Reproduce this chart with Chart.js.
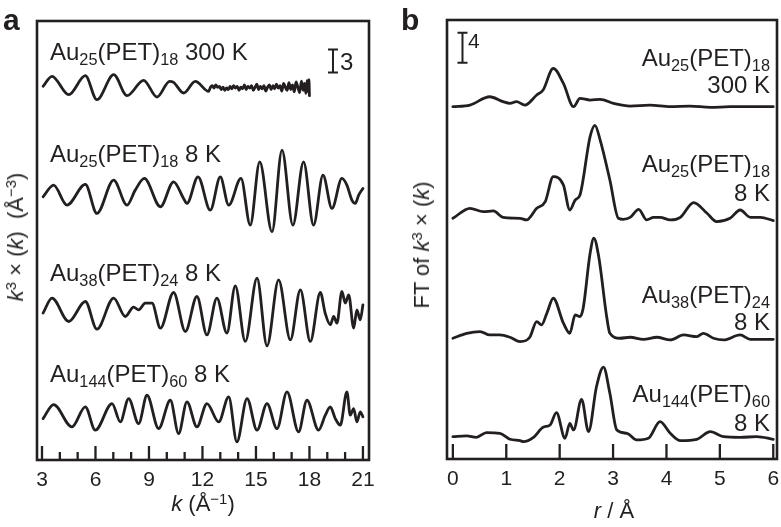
<!DOCTYPE html>
<html><head><meta charset="utf-8">
<script src="https://cdn.jsdelivr.net/npm/chart.js@4.4.0/dist/chart.umd.min.js"></script>
<style>
html,body{margin:0;padding:0;background:#fff;}
#wrap{position:relative;width:781px;height:527px;overflow:hidden;font-family:"Liberation Sans",Arial,Helvetica,sans-serif;color:#231f20;}
canvas{position:absolute;top:0;}
.t{position:absolute;white-space:nowrap;}
.t sub{font-size:0.68em;vertical-align:-0.3em;line-height:0;}
.t sup{font-size:0.68em;vertical-align:0.45em;line-height:0;}
.rot{transform:translate(-50%,-50%) rotate(-90deg);transform-origin:center center;}
</style>
</head><body>
<div id="wrap">
  <canvas id="ca" width="390" height="527" style="left:0"></canvas>
  <canvas id="cb" width="391" height="527" style="left:390px"></canvas>
</div>
<script>
// ---------------- DATA ----------------
// Panel a: k^3 chi(k) spectra (k in 1/Å, chi in Å^-3), stacked with vertical offsets
const kTicksA = [3, 6, 9, 12, 15, 18, 21];
const aOffsets = [48.3, 35.3, 19.5, 5.6];

const kA1 = [3.06,3.56,4.50,5.43,6.08,7.02,7.77,8.70,9.45,10.16,10.38,10.94,11.60,12.35,
  12.45,12.55,12.65,12.75,12.85,12.95,13.05,13.15,13.25,13.35,13.45,13.55,13.65,13.75,13.85,13.95,
  14.05,14.15,14.25,14.35,14.45,14.55,14.65,14.75,14.85,14.95,15.05,15.15,15.25,15.35,15.45,15.55,
  15.65,15.75,15.85,15.95,16.05,16.15,16.25,16.35,16.45,16.55,16.65,16.75,16.85,16.95,17.05,17.15,
  17.25,17.35,17.45,17.55,17.65,17.72,17.80,17.87,17.93,17.97,18.00];
const chiA1 = [0.22,1.52,-0.87,1.60,-1.52,1.73,-1.00,1.00,-1.17,0.87,0.74,-0.65,0.87,-0.43,
  0.1,0.3,0.0,0.4,0.1,0.2,-0.2,0.1,-0.3,0.0,-0.2,0.2,-0.1,0.3,0.0,0.2,
  -0.3,0.1,-0.1,0.4,-0.2,0.2,0.0,0.3,-0.3,0.1,0.5,-0.2,0.2,-0.1,0.3,-0.4,
  0.1,0.4,-0.2,0.3,-0.1,0.5,0.0,0.3,-0.4,0.6,0.1,-0.3,0.7,-0.2,0.4,-0.5,
  0.8,0.1,-0.6,0.9,-0.3,0.6,-0.7,1.0,-0.5,1.1,-1.0];

const kA2 = [3.06,3.65,4.40,5.43,6.08,7.02,7.77,8.23,8.74,9.64,10.38,10.94,11.13,11.75,12.44,13.00,
  13.47,14.16,14.68,15.21,15.90,16.46,17.07,17.67,18.23,18.76,19.26,19.82,20.10,20.38,20.57,20.76,21.00];
const chiA2 = [-1.13,0.39,-2.21,0.48,-3.29,1.04,-2.21,-0.26,1.26,-2.42,0.82,-1.34,-1.99,1.47,-2.86,1.47,
  -2.21,1.26,-4.81,3.42,-5.67,4.94,-4.81,3.42,-4.81,1.69,-2.64,1.26,0.39,-1.56,-1.99,-0.91,-0.04];

const kA3 = [3.06,3.56,4.50,5.43,6.08,7.02,7.67,8.14,8.42,8.79,9.17,9.64,10.38,11.04,11.69,12.25,12.81,
  13.37,13.84,14.40,15.06,15.62,16.27,16.93,17.49,18.05,18.61,18.89,19.17,19.36,19.54,19.82,20.01,
  20.20,20.48,20.66,20.85,21.00];
const chiA3 = [-0.43,1.52,-1.52,1.08,-2.51,1.52,-0.87,0.35,0.00,0.87,0.87,-2.38,2.25,-2.81,1.73,-3.25,1.52,
  -3.03,3.12,-4.11,4.11,-4.68,3.90,-3.90,2.60,-4.11,2.25,-0.50,-1.95,-0.87,-1.73,2.38,0.87,
  1.95,-2.38,0.00,-1.30,0.65];

const kA4 = [3.06,3.65,4.68,5.43,5.99,6.93,7.39,7.86,8.42,8.89,9.54,10.20,10.66,11.13,11.69,12.25,12.91,
  13.47,13.93,14.50,15.06,15.62,16.18,16.74,17.39,17.86,18.51,18.89,19.17,19.45,19.73,20.10,20.29,
  20.48,20.66,20.85,21.00];
const chiA4 = [-0.22,1.60,-1.30,1.30,-1.73,1.73,-0.65,2.38,-0.87,2.81,-1.52,2.16,-2.16,1.95,-1.30,1.73,-0.65,
  2.60,-3.25,2.38,-1.73,1.73,-1.52,3.25,-1.95,2.16,-1.73,0.22,1.30,-0.22,-1.08,3.25,0.22,
  1.08,-0.65,0.65,0.00];

// Panel b: Fourier transforms (r in Å), stacked with vertical offsets
const rTicksB = [0, 1, 2, 3, 4, 5, 6];
const bOffsets = [46.97, 32.09, 16.23, 2.76];

const rB1 = [0,0.32,0.69,0.94,1.07,1.19,1.35,1.57,1.69,1.88,2.07,2.26,2.38,2.57,2.76,3.01,3.32,3.69,4.07,4.44,4.82,5.19,5.57,6.0];
const ftB1 = [0,0.22,1.33,0.67,0.44,0.67,0.22,1.56,2.22,5.11,3.11,0,1.11,0.89,0.98,0.44,0.09,0.22,0,0.09,-0.09,0,0,0];

const rB2 = [0,0.32,0.57,0.76,0.94,1.26,1.38,1.57,1.73,1.88,2.07,2.19,2.29,2.38,2.57,2.66,2.76,2.94,3.10,3.19,3.32,3.48,
  3.63,3.76,3.88,4.07,4.26,4.51,4.76,4.94,5.19,5.38,5.57,5.76,6.0];
const ftB2 = [0,1.33,0.89,0.98,0.13,0,-0.22,1.33,2.22,5.56,4.44,1.11,2.44,3.11,10.9,12.4,10.4,5.11,0,-0.13,0.13,1.2,
  -0.22,0.13,0.13,-0.22,0.13,2.09,0.67,-0.44,0,1.11,0.13,0.13,-0.31];

const rB3 = [0,0.26,0.51,0.69,0.88,1.07,1.26,1.44,1.57,1.66,1.76,1.88,2.07,2.19,2.29,2.38,2.44,2.57,2.64,2.73,2.88,2.94,
  3.13,3.32,3.57,3.82,4.07,4.32,4.57,4.69,4.88,5.07,5.38,5.57,6.0];
const ftB3 = [-0.13,0.53,0.76,0.31,0.31,0,-0.58,0,2.09,1.64,3.2,5.2,1.87,0.53,2.98,2.76,3.87,11.2,13.2,10.8,2.76,0.53,
  -0.13,0,-0.27,0,-0.36,0.31,0.09,0.53,-0.13,-0.36,0.31,-0.27,-0.27];

const rB4 = [0,0.26,0.44,0.63,0.88,1.07,1.26,1.32,1.51,1.69,1.82,1.94,2.10,2.19,2.26,2.41,2.54,2.69,2.82,2.94,3.07,3.26,
  3.44,3.66,3.88,4.07,4.26,4.57,4.82,5.07,5.38,5.69,6.0];
const ftB4 = [0.22,0.31,0.13,0.76,0.67,-0.13,-0.31,-0.44,0.13,1.47,1.78,3.42,0,2.0,1.11,5.2,0.89,6.9,9.5,6.0,1.11,0.67,
  -0.22,0,2.22,0.67,-0.31,-0.13,0.89,0.22,0.13,0.22,-0.13];

// Scale bars (data units)
const barA = {x: 19.32, y0: 50.3, y1: 53.3};   // "3"
const barB = {x: 0.18, y0: 52.84, y1: 56.84};  // "4"

// ---------------- RENDER ----------------
const INK = '#231f20';
const FONT = '"Liberation Sans", Arial, Helvetica, sans-serif';

function series(xs, ys, off) {
  return xs.map((x, i) => ({x: x, y: ys[i] + off}));
}
function ds(data) {
  return {data, borderColor: INK, borderWidth: 2.8, pointRadius: 0, fill: false,
    cubicInterpolationMode: 'monotone', borderJoinStyle: 'round', borderCapStyle: 'round'};
}

const framePlugin = {
  id: 'frame',
  afterDatasetsDraw(chart, args, o) {
    const {ctx, chartArea: a, scales: {x, y}} = chart;
    ctx.save();
    ctx.strokeStyle = INK;
    ctx.lineCap = 'butt';
    ctx.lineWidth = 2.6;
    ctx.strokeRect(a.left, a.top, a.right - a.left, a.bottom - a.top);
    ctx.lineWidth = 2.3;
    x.ticks.forEach(t => {
      const px = x.getPixelForValue(t.value);
      const major = Math.abs(t.value % o.major) < 1e-6;
      const len = major ? o.majorLen : o.minorLen;
      ctx.beginPath(); ctx.moveTo(px, a.bottom); ctx.lineTo(px, a.bottom - len); ctx.stroke();
    });
    const bx = x.getPixelForValue(o.bar.x);
    const y0 = y.getPixelForValue(o.bar.y0), y1 = y.getPixelForValue(o.bar.y1);
    ctx.lineWidth = 2;
    ctx.beginPath();
    ctx.moveTo(bx, y0); ctx.lineTo(bx, y1);
    ctx.moveTo(bx - 5, y0); ctx.lineTo(bx + 5, y0);
    ctx.moveTo(bx - 5, y1); ctx.lineTo(bx + 5, y1);
    ctx.stroke();
    ctx.restore();
  }
};

function makeChart(id, datasets, xmin, xmax, ymax, pad, xh, tickShow, frameOpts, tickPad) {
  return new Chart(document.getElementById(id), {
    type: 'line',
    data: {datasets},
    plugins: [framePlugin],
    options: {
      responsive: false, animation: false, devicePixelRatio: 1,
      layout: {padding: pad},
      plugins: {legend: {display: false}, tooltip: {enabled: false}, frame: frameOpts},
      scales: {
        x: {type: 'linear', min: xmin, max: xmax,
          grid: {display: false}, border: {display: false},
          afterFit: s => { s.height = xh; },
          ticks: {stepSize: 1, includeBounds: false, autoSkip: false, maxRotation: 0, padding: tickPad,
            color: INK, font: {family: FONT, size: 21},
            callback: v => tickShow.includes(v) ? String(v) : ''}},
        y: {type: 'linear', min: 0, max: ymax, display: false}
      }
    }
  });
}

makeChart('ca', [
    ds(series(kA1, chiA1, aOffsets[0])), ds(series(kA2, chiA2, aOffsets[1])),
    ds(series(kA3, chiA3, aOffsets[2])), ds(series(kA4, chiA4, aOffsets[3]))
  ], 2.72, 21.34, 57.0, {left: 37, right: 21, top: 21, bottom: 0}, 67, kTicksA,
  {major: 3, majorLen: 14, minorLen: 8, bar: barA}, 0);

makeChart('cb', [
    ds(series(rB1, ftB1, bOffsets[0])), ds(series(rB2, ftB2, bOffsets[1])),
    ds(series(rB3, ftB3, bOffsets[2])), ds(series(rB4, ftB4, bOffsets[3]))
  ], -0.11, 6.07, 58.53, {left: 57, right: 4, top: 20, bottom: 0}, 68, rTicksB,
  {major: 1, majorLen: 15, minorLen: 15, bar: barB}, 0);

// ---------------- TEXT ----------------
const wrap = document.getElementById('wrap');
function txt(html, x, baseline, size, opts) {
  opts = opts || {};
  const d = document.createElement('div');
  d.className = 't';
  d.innerHTML = html;
  d.style.fontSize = size + 'px';
  d.style.lineHeight = size + 'px';
  if (opts.bold) d.style.fontWeight = 'bold';
  const top = baseline - size * 0.845;
  d.style.top = top + 'px';
  if (opts.right) d.style.right = (781 - x) + 'px'; else d.style.left = x + 'px';
  wrap.appendChild(d);
  return d;
}
function rtxt(html, cx, cy, size) {
  const d = document.createElement('div');
  d.className = 't rot';
  d.innerHTML = html;
  d.style.fontSize = size + 'px';
  d.style.lineHeight = size + 'px';
  d.style.left = cx + 'px';
  d.style.top = cy + 'px';
  wrap.appendChild(d);
}

txt('a', 3, 30, 30, {bold: true});
txt('b', 401, 30, 30, {bold: true});

txt('Au<sub>25</sub>(PET)<sub>18</sub> 300 K', 50, 60, 24);
txt('Au<sub>25</sub>(PET)<sub>18</sub> 8 K', 50, 162, 24);
txt('Au<sub>38</sub>(PET)<sub>24</sub> 8 K', 50, 281, 24);
txt('Au<sub>144</sub>(PET)<sub>60</sub> 8 K', 50, 382, 24);
txt('3', 340, 70, 24);

txt('Au<sub>25</sub>(PET)<sub>18</sub>', 770, 66, 24, {right: true});
txt('300 K', 770, 93, 24, {right: true});
txt('Au<sub>25</sub>(PET)<sub>18</sub>', 770, 172, 24, {right: true});
txt('8 K', 770, 201, 24, {right: true});
txt('Au<sub>38</sub>(PET)<sub>24</sub>', 770, 303, 24, {right: true});
txt('8 K', 770, 330, 24, {right: true});
txt('Au<sub>144</sub>(PET)<sub>60</sub>', 770, 402, 24, {right: true});
txt('8 K', 770, 431, 24, {right: true});
txt('4', 468, 48, 21);

rtxt('<i>k</i><sup>3</sup> × (<i>k</i>)&nbsp;&nbsp;(Å<sup>−3</sup>)', 16, 237, 22);
rtxt('FT of <i>k</i><sup>3</sup> × (<i>k</i>)', 422, 245, 22);

const xa = txt('<i>k</i> (Å<sup>−1</sup>)', 203, 512, 22);
xa.style.transform = 'translateX(-50%)';
const xb = txt('<i>r</i> / Å', 614, 519, 22);
xb.style.transform = 'translateX(-50%)';
</script>
</body></html>
